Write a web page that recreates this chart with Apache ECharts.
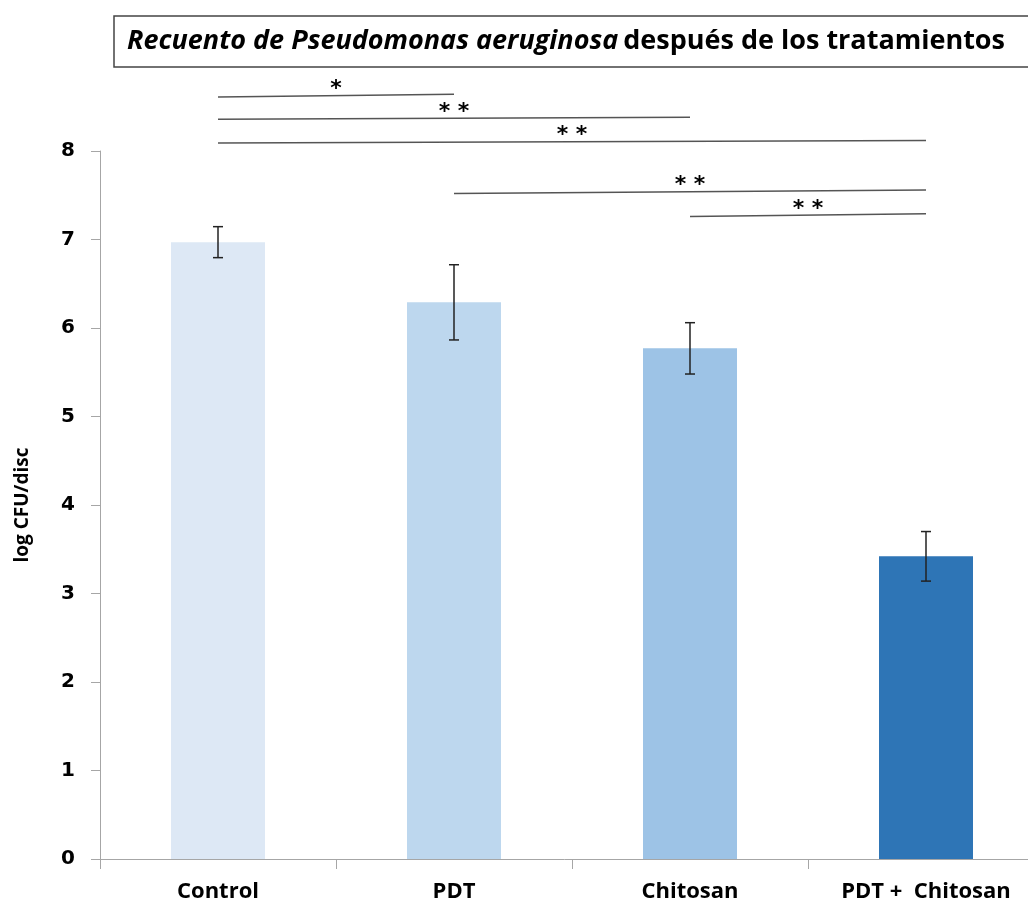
<!DOCTYPE html>
<html>
<head>
<meta charset="utf-8">
<script src="https://cdn.jsdelivr.net/npm/echarts@6/dist/echarts.min.js"></script>
<style>
  html, body { margin: 0; padding: 0; background: #fff; }
  #chart { width: 1028px; height: 907px; }
</style>
</head>
<body>
<div id="chart"></div>
<script>
// data
const categories = ["Control", "PDT", "Chitosan", "PDT +  Chitosan"];
const means = [6.97, 6.29, 5.77, 3.42];
const errors = [0.175, 0.425, 0.29, 0.28];
const yTicks = [0, 1, 2, 3, 4, 5, 6, 7, 8];

// significance brackets: category index from/to, heights at both ends, label
const sigFrom = [0, 0, 0, 1, 2];
const sigTo = [1, 2, 3, 3, 3];
const sigYLeft = [8.61, 8.36, 8.09, 7.52, 7.26];
const sigYRight = [8.64, 8.38, 8.12, 7.56, 7.29];
const sigLabels = ["*", "* *", "* *", "* *", "* *"];

const barColors = ["#dde8f5", "#bdd7ee", "#9dc3e6", "#2e75b6"];
const axisGray = "#a6a6a6";
const labelFont = "'Open Sans', 'Noto Sans', sans-serif";

const chart = echarts.init(document.getElementById("chart"), null, { renderer: "canvas" });

const errData = means.map((m, i) => [i, m - errors[i], m + errors[i]]);
const sigData = sigFrom.map((f, i) => [f, sigYLeft[i], sigTo[i], sigYRight[i]]);

chart.setOption({
  animation: false,
  title: {
    text: "{it|Recuento de Pseudomonas aeruginosa} {b|después de los tratamientos}",
    left: 114,
    top: 14,
    padding: [12, 40, 12, 13],
    borderColor: "#444",
    borderWidth: 1.5,
    textStyle: {
      rich: {
        it: { fontFamily: labelFont, fontSize: 27, lineHeight: 31, fontWeight: "bold", fontStyle: "italic", color: "#000" },
        b: { fontFamily: labelFont, fontSize: 27, lineHeight: 31, fontWeight: "bold", color: "#000" },
      },
    },
  },
  grid: { left: 100, top: 151, width: 944, height: 708, containLabel: false, outerBoundsMode: "none" },
  xAxis: {
    type: "category",
    data: categories,
    axisLine: { lineStyle: { color: axisGray, width: 1 } },
    axisTick: { show: true, length: 10, inside: false, lineStyle: { color: axisGray } },
    axisLabel: {
      color: "#000",
      fontFamily: labelFont,
      fontWeight: "bold",
      fontSize: 22,
      margin: 22,
      interval: 0,
    },
    splitLine: { show: false },
  },
  yAxis: {
    type: "value",
    min: 0,
    max: 8,
    interval: 1,
    name: "log CFU/disc",
    nameLocation: "middle",
    nameGap: 68,
    nameTextStyle: { color: "#000", fontFamily: labelFont, fontWeight: "bold", fontSize: 19 },
    axisLine: { show: true, lineStyle: { color: axisGray, width: 1 } },
    axisTick: { show: true, length: 9, lineStyle: { color: axisGray } },
    axisLabel: {
      color: "#000",
      fontFamily: "'DejaVu Sans', sans-serif",
      fontWeight: "bold",
      fontSize: 20,
      margin: 25,
      formatter: (v) => (yTicks.includes(v) ? String(v) : ""),
    },
    splitLine: { show: false },
  },
  series: [
    {
      type: "bar",
      barWidth: 94,
      data: means.map((v, i) => ({ value: v, itemStyle: { color: barColors[i] } })),
      z: 2,
    },
    {
      type: "custom",
      z: 5,
      data: errData,
      renderItem(params, api) {
        const x = api.value(0);
        const lo = api.coord([x, api.value(1)]);
        const hi = api.coord([x, api.value(2)]);
        const cap = 5;
        const style = { stroke: "#222", lineWidth: 1.5 };
        return {
          type: "group",
          children: [
            { type: "line", shape: { x1: lo[0], y1: lo[1], x2: hi[0], y2: hi[1] }, style },
            { type: "line", shape: { x1: hi[0] - cap, y1: hi[1], x2: hi[0] + cap, y2: hi[1] }, style },
            { type: "line", shape: { x1: lo[0] - cap, y1: lo[1], x2: lo[0] + cap, y2: lo[1] }, style },
          ],
        };
      },
    },
    {
      type: "custom",
      z: 5,
      clip: false,
      data: sigData,
      encode: { x: [0, 2], y: [1, 3] },
      renderItem(params, api) {
        const a = api.coord([api.value(0), api.value(1)]);
        const b = api.coord([api.value(2), api.value(3)]);
        const label = sigLabels[params.dataIndex];
        return {
          type: "group",
          children: [
            {
              type: "line",
              shape: { x1: a[0], y1: a[1], x2: b[0], y2: b[1] },
              style: { stroke: "#555", lineWidth: 1.5 },
            },
            {
              type: "text",
              style: {
                text: label,
                x: (a[0] + b[0]) / 2,
                y: (a[1] + b[1]) / 2 + 5,
                align: "center",
                verticalAlign: "bottom",
                fill: "#000",
                font: "bold 22px 'DejaVu Sans', sans-serif",
              },
            },
          ],
        };
      },
    },
  ],
});
</script>
</body>
</html>
